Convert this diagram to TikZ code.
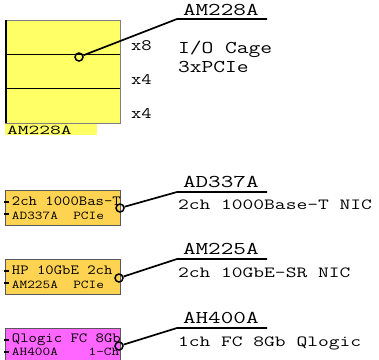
\documentclass[tikz,border=0pt]{standalone}
\usepackage{fontspec}
\usepackage{graphicx}
\definecolor{cageY}{RGB}{255,255,102}
\definecolor{nicY}{RGB}{255,211,82}
\definecolor{fcM}{RGB}{255,102,255}
\newcommand{\tx}[3]{\fontsize{#1}{#1}\selectfont\scalebox{#2}[1]{#3}}
\begin{document}
\begin{tikzpicture}[x=1pt,y=-1pt,
  txt/.style={inner sep=0pt,outer sep=0pt,anchor=base west,font=\ttfamily},
  conn/.style={line width=1.7pt,black},
  pinc/.style={circle,draw,line width=1.5pt,minimum size=8pt,inner sep=0pt},
  card/.style={draw=black!65,line width=0.7pt,rectangle,anchor=north west,
    minimum width=115pt,minimum height=35pt,inner sep=0pt},
  tick/.style={line width=1.3pt,black}]
\useasboundingbox (0,0) rectangle (379,359);

% ---- I/O cage ----
\node[card,fill=cageY,minimum height=103pt,draw=black!50] (cage) at (5,20) {};
\draw[line width=1pt] (5,54) -- (120,54);
\draw[line width=1pt] (5,88.5) -- (120,88.5);
\draw[line width=2.2pt] (6,20) -- (6,123);
\fill[cageY] (5,124) rectangle (97,135);
\node[txt] (cagelbl) at (7,134) {\tx{13.5}{1.55}{AM228A}};
\node[txt] (x1) at (131,50) {\tx{16}{1.25}{x8}};
\node[txt] (x2) at (131,84) {\tx{16}{1.25}{x4}};
\node[txt] (x3) at (131,118) {\tx{16}{1.25}{x4}};

\node[pinc] (c0) at (79,57) {};
\coordinate (k0) at (177,19);
\coordinate (e0) at (267,19);
\draw[conn] (c0) -- (k0) -- (e0);
\node[txt] (h0) at (183,15) {\tx{18}{1.36}{AM228A}};
\node[txt] (d0a) at (178,53) {\tx{18}{1.27}{I/O Cage}};
\node[txt] (d0b) at (178,72) {\tx{18}{1.27}{3xPCIe}};

% ---- cards ----
\node[card,fill=nicY] (b1) at (5,190) {};
\node[card,fill=nicY] (b2) at (5,259) {};
\node[card,fill=fcM] (b3) at (5,328) {};

\begin{scope}
\clip (5,190) rectangle (120.5,225);
\node[txt] (b1a) at (12,205) {\tx{14}{1.16}{2ch 1000Bas-T}};
\node[txt] (b1b) at (12,219) {\tx{12}{1.24}{AD337A~~PCIe}};
\end{scope}
\begin{scope}
\clip (5,259) rectangle (120.5,294);
\node[txt] (b2a) at (12,274) {\tx{14}{1.16}{HP 10GbE 2ch}};
\node[txt] (b2b) at (12,288) {\tx{12}{1.24}{AM225A~~PCIe}};
\end{scope}
\begin{scope}
\clip (5,328) rectangle (120.5,363);
\node[txt] (b3a) at (12,342) {\tx{14}{1.16}{Qlogic FC 8Gb}};
\node[txt] (b3b) at (12,355) {\tx{12}{1.24}{AH400A~~~~1-Ch}};
\end{scope}

\foreach \t in {190,259,328}{
  \draw[tick] (4,\t+12) -- (9,\t+12);
  \draw[tick] (4,\t+24) -- (9,\t+24);
}

% connectors
\node[pinc] (c1) at (120,208) {};
\node[pinc] (c2) at (119,278) {};
\node[pinc] (c3) at (119,346) {};
\coordinate (k1) at (177,192); \coordinate (e1) at (267,192);
\coordinate (k2) at (177,259); \coordinate (e2) at (267,259);
\coordinate (k3) at (177,328); \coordinate (e3) at (267,328);
\draw[conn] (c1) -- (k1) -- (e1);
\draw[conn] (c2) -- (k2) -- (e2);
\draw[conn] (c3) -- (k3) -- (e3);

\node[txt] (h1) at (183,187) {\tx{18}{1.36}{AD337A}};
\node[txt] (d1) at (178,209) {\tx{15.5}{1.35}{2ch 1000Base-T NIC}};
\node[txt] (h2) at (183,254) {\tx{18}{1.36}{AM225A}};
\node[txt] (d2) at (178,277) {\tx{15.5}{1.35}{2ch 10GbE-SR NIC}};
\node[txt] (h3) at (183,323) {\tx{18}{1.36}{AH400A}};
\node[txt] (d3) at (178,346) {\tx{15.5}{1.35}{1ch FC 8Gb Qlogic}};
\end{tikzpicture}
\end{document}
